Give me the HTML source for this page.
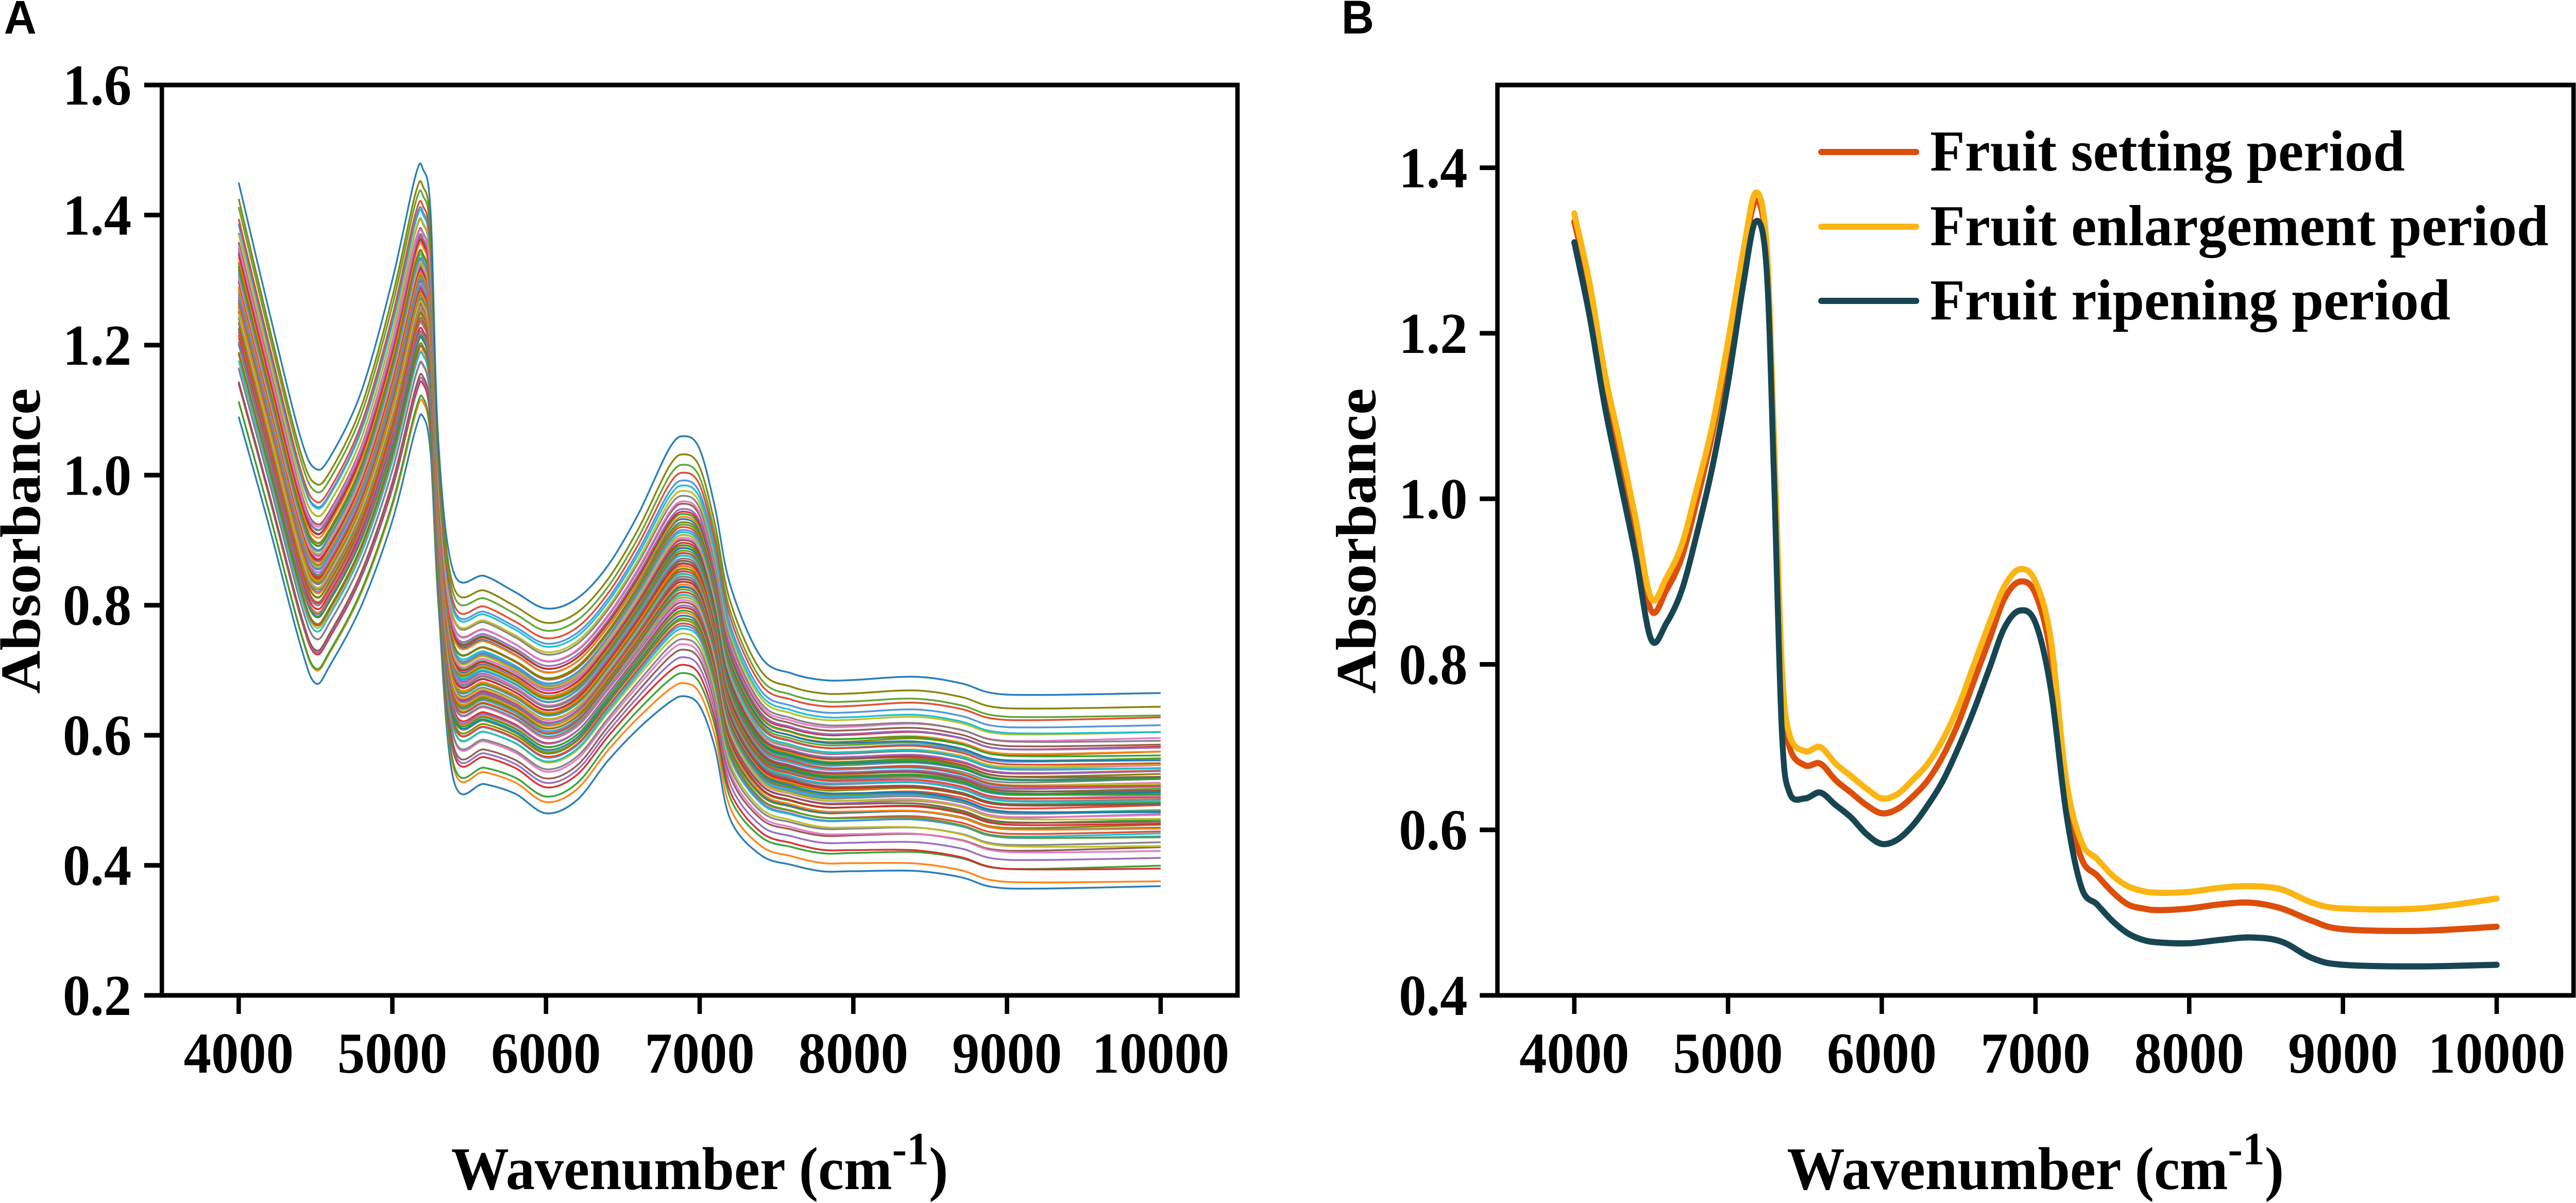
<!DOCTYPE html>
<html><head><meta charset="utf-8"><style>
html,body{margin:0;padding:0;background:#fff;width:100%;height:100%;overflow:hidden;}
svg{display:block;width:100vw;height:100vh;}
text{font-family:"Liberation Serif","DejaVu Serif",serif;font-weight:bold;fill:#000;}
.pl{font-family:"Liberation Sans","DejaVu Sans",sans-serif;}
</style></head><body>
<svg id="fig" xmlns="http://www.w3.org/2000/svg" viewBox="0 0 5252 2335" preserveAspectRatio="none" overflow="hidden">
<rect width="5252" height="2335" fill="#fff"/>
<text class="pl" x="8" y="65" font-size="92">A</text>
<text class="pl" x="2735" y="65" font-size="92">B</text>
<g id="gA"></g>
<g id="gB"></g>
</svg>
<script>
// ---------- Panel A data ----------
const waveA = [4000,4200,4400,4500,4600,4800,5000,5150,5200,5250,5300,5400,5600,5800,6000,6200,6400,6600,6800,6900,7000,7100,7200,7400,7600,7800,8000,8400,8700,8900,9200,10000];
const upperA = [1.45,1.25,1.06,1.01,1.03,1.13,1.30,1.46,1.47,1.40,1.05,0.85,0.845,0.82,0.795,0.81,0.86,0.94,1.04,1.06,1.04,0.95,0.83,0.72,0.695,0.685,0.685,0.69,0.68,0.665,0.662,0.665];
const lowerA = [1.09,0.92,0.74,0.68,0.71,0.80,0.93,1.07,1.09,1.03,0.80,0.53,0.525,0.51,0.48,0.50,0.56,0.61,0.65,0.66,0.645,0.58,0.47,0.415,0.40,0.39,0.39,0.39,0.38,0.365,0.362,0.365];
const sampleLevelsA = [0.00,0.05,0.09,0.12,0.15,0.18,0.20,0.22,0.24,0.26,0.27,0.28,0.29,0.30,0.31,0.32,0.33,0.34,0.35,0.36,0.37,0.38,0.38,0.39,0.40,0.40,0.41,0.42,0.42,0.43,0.44,0.44,0.45,0.45,0.46,0.46,0.47,0.47,0.48,0.48,0.49,0.49,0.50,0.50,0.51,0.51,0.52,0.52,0.53,0.53,0.54,0.54,0.55,0.55,0.56,0.57,0.57,0.58,0.58,0.59,0.60,0.60,0.61,0.62,0.62,0.63,0.64,0.65,0.66,0.67,0.68,0.69,0.70,0.71,0.72,0.74,0.75,0.77,0.79,0.81,0.83,0.86,0.89,0.93,1.00];
const tiltA = [0.02,-0.03,0.05,-0.04,0.01,0.06,-0.02,0.03,-0.05,0.04,-0.01,0.02,-0.06,0.05,0.00,-0.03,0.04,-0.02,0.06,-0.04,0.01,0.03,-0.05,0.02,-0.01,0.05,-0.03,0.04,-0.06,0.02,0.00,-0.02,0.05,-0.04,0.03,-0.01,0.06,-0.05,0.02,-0.03,0.04,0.01,-0.02,0.05,-0.06,0.03,0.00,-0.04,0.02,0.06,-0.01,-0.03,0.04,-0.05,0.01,0.03,-0.02,0.05,-0.04,0.02,0.00,-0.06,0.04,-0.01,0.03,-0.03,0.05,-0.02,0.01,0.06,-0.05,0.02,-0.04,0.03,0.00,-0.01,0.04,-0.03,0.02,-0.02,0.01,0.03,-0.01,0.00,0.00];
const xTicks = [4000,5000,6000,7000,8000,9000,10000];
const yTicksA = [0.2,0.4,0.6,0.8,1.0,1.2,1.4,1.6];
const yTicksB = [0.4,0.6,0.8,1.0,1.2,1.4];
const paletteA = ['#1f77b4','#ff7f0e','#2ca02c','#d62728','#9467bd','#8c564b','#e377c2','#7f7f7f','#bcbd22','#17becf','#4a90d9','#e0452a','#5aa02c','#808000'];

// ---------- Panel B data ----------
const waveB = [4000,4100,4200,4300,4400,4500,4600,4700,4800,4900,5000,5100,5180,5250,5300,5350,5400,5500,5600,5700,5800,5900,6000,6100,6200,6300,6400,6500,6600,6700,6800,6900,7000,7100,7200,7300,7400,7500,7600,7700,7800,8000,8200,8400,8600,8800,9000,9500,10000];
const settingB = [1.335,1.25,1.14,1.05,0.96,0.865,0.89,0.93,1.00,1.08,1.18,1.29,1.36,1.30,1.05,0.78,0.70,0.678,0.68,0.66,0.645,0.63,0.62,0.625,0.64,0.66,0.69,0.73,0.78,0.83,0.88,0.90,0.885,0.81,0.64,0.565,0.545,0.525,0.51,0.505,0.503,0.505,0.51,0.512,0.505,0.49,0.48,0.478,0.483];
const enlargeB = [1.345,1.26,1.15,1.065,0.975,0.88,0.905,0.945,1.015,1.09,1.19,1.30,1.37,1.31,1.07,0.80,0.715,0.695,0.70,0.68,0.665,0.65,0.638,0.643,0.66,0.68,0.71,0.75,0.80,0.85,0.895,0.915,0.90,0.83,0.66,0.585,0.565,0.545,0.532,0.526,0.524,0.525,0.530,0.532,0.528,0.512,0.505,0.505,0.517];
const ripenB = [1.31,1.22,1.11,1.02,0.93,0.83,0.85,0.89,0.96,1.04,1.14,1.26,1.335,1.28,1.02,0.72,0.645,0.638,0.645,0.63,0.615,0.595,0.583,0.588,0.605,0.63,0.66,0.70,0.745,0.795,0.845,0.865,0.85,0.77,0.62,0.53,0.51,0.49,0.475,0.467,0.464,0.463,0.467,0.470,0.465,0.445,0.437,0.435,0.437];
const seriesNamesB = ['Fruit setting period','Fruit enlargement period','Fruit ripening period'];
const seriesColorsB = ['#DD4E0B','#FBB614','#174652'];

const NS='http://www.w3.org/2000/svg';
function mk(tag, attrs, parent){const e=document.createElementNS(NS,tag);for(const k in attrs)e.setAttribute(k,attrs[k]);parent.appendChild(e);return e;}
function smoothPath(pts){
  let d='M'+pts[0][0].toFixed(1)+','+pts[0][1].toFixed(1);
  for(let i=0;i<pts.length-1;i++){
    const p0=pts[Math.max(0,i-1)],p1=pts[i],p2=pts[i+1],p3=pts[Math.min(pts.length-1,i+2)];
    const c1x=p1[0]+(p2[0]-p0[0])/6,c1y=p1[1]+(p2[1]-p0[1])/6;
    const c2x=p2[0]-(p3[0]-p1[0])/6,c2y=p2[1]-(p3[1]-p1[1])/6;
    d+='C'+c1x.toFixed(1)+','+c1y.toFixed(1)+' '+c2x.toFixed(1)+','+c2y.toFixed(1)+' '+p2[0].toFixed(1)+','+p2[1].toFixed(1);
  }
  return d;
}
function axes(g, L, R, T, B, x, y, yTicks, labX, ylabX, prefix){
  mk('rect',{x:L,y:T,width:R-L,height:B-T,fill:'none',stroke:'#000','stroke-width':9,},g);
  xTicks.forEach(v=>{
    const t=mk('line',{x1:x(v),x2:x(v),y1:B,y2:B+36,stroke:'#000','stroke-width':9},g);
    
    
    const tx=mk('text',{x:x(v),y:2082,'font-size':112,'text-anchor':'middle'},g);
    
    
    tx.textContent=String(v);
  });
  yTicks.forEach(v=>{
    const t=mk('line',{x1:L-36,x2:L,y1:y(v),y2:y(v),stroke:'#000','stroke-width':9},g);
    
    
    const tx=mk('text',{x:labX,y:y(v)+38,'font-size':112,'text-anchor':'end'},g);
    
    
    tx.textContent=v.toFixed(1);
  });
  const yl=mk('text',{x:0,y:0,'font-size':116,'text-anchor':'middle',transform:'translate('+ylabX+',1050) rotate(-90)'},g);
  
  
  yl.textContent='Absorbance';
  const xl=mk('text',{x:(L+R)/2,y:2308,'font-size':118,'text-anchor':'middle'},g);
  
  
  xl.appendChild(document.createTextNode('Wavenumber (cm'));
  const sup=mk('tspan',{dy:-48,'font-size':90},xl); sup.textContent='-1';
  const cl=mk('tspan',{dy:48},xl); cl.textContent=')';
}

// Panel A
(function(){
  const g=document.getElementById('gA');
  const L=330,R=2523,T=165,B=1932;
  const x=v=>L+(v-3500)/7000*(R-L);
  const y=v=>B-(v-0.2)/1.4*(B-T);
  const lines=mk('g',{},g);
  
  
  sampleLevelsA.forEach((w,i)=>{
    const tl=tiltA[i]||0;
    const pts=waveA.map((wv,j)=>{
      const f=(wv-4000)/6000;
      let ww=w+tl*(f-0.5);
      ww=Math.max(0,Math.min(1,ww));
      return [x(wv), y(lowerA[j]+ww*(upperA[j]-lowerA[j]))];
    });
    const p=mk('path',{d:smoothPath(pts),fill:'none',stroke:paletteA[i%paletteA.length],'stroke-width':3.5,'stroke-opacity':0.95},lines);
    
    
  });
  axes(g,L,R,T,B,x,y,yTicksA,268,81,'a-');
})();

// Panel B
(function(){
  const g=document.getElementById('gB');
  const L=3053,R=5247,T=165,B=1932;
  const x=v=>L+(v-3500)/7000*(R-L);
  const y=v=>B-(v-0.4)/1.1*(B-T);
  [settingB,enlargeB,ripenB].forEach((s,k)=>{
    const pts=waveB.map((wv,j)=>[x(wv),y(s[j])]);
    const p=mk('path',{d:smoothPath(pts),fill:'none',stroke:seriesColorsB[k],'stroke-width':12,'stroke-linejoin':'round','stroke-linecap':'round'},g);
    
    
  });
  const legY=[295,440,584];
  const legLen=[968,1261,1061];
  seriesNamesB.forEach((n,k)=>{
    const le=mk('g',{},g);
    
    
    mk('line',{x1:3713,x2:3907,y1:legY[k],y2:legY[k],stroke:seriesColorsB[k],'stroke-width':12,'stroke-linecap':'round'},le);
    const t=mk('text',{x:3935,y:legY[k]+36,'font-size':112,textLength:legLen[k],lengthAdjust:'spacingAndGlyphs'},le);
    t.textContent=n;
  });
  axes(g,L,R,T,B,x,y,yTicksB,2992,2804,'b-');
})();
</script>
</body></html>
